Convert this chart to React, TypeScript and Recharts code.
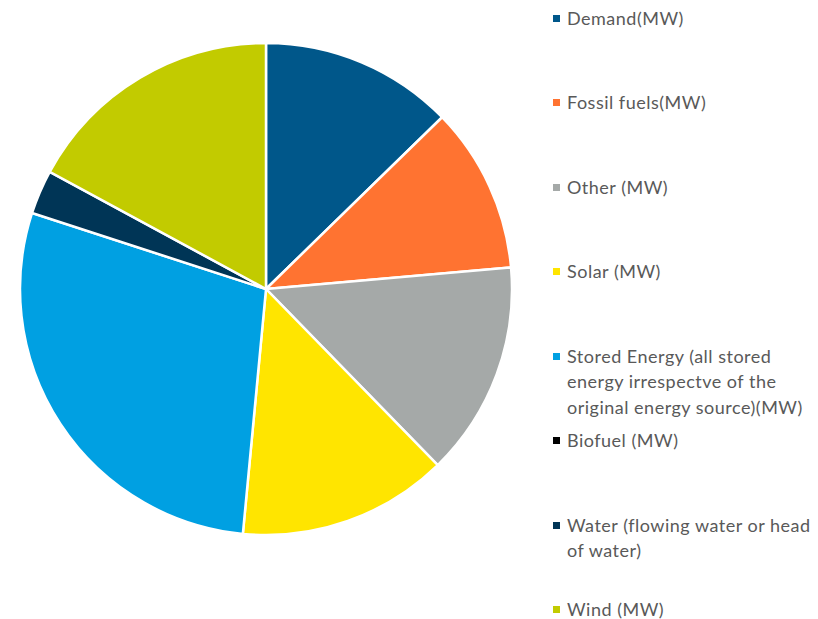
import React from 'react'
import { PieChart, Pie, Cell, Legend } from 'recharts'

// share of each source
const names = [
  'Demand(MW)',
  'Fossil fuels(MW)',
  'Other (MW)',
  'Solar (MW)',
  'Stored Energy (all stored energy irrespectve of the original energy source)(MW)',
  'Biofuel (MW)',
  'Water (flowing water or head of water)',
  'Wind (MW)'
]
const values = [12.7, 10.9, 14.1, 13.8, 28.5, 0, 2.9, 17.1]
const colors = ['#00578A', '#FF7331', '#A5A9A8', '#FFE500', '#00A0E2', '#000000', '#003556', '#C2CB00']

// legend text as it wraps in the original
const legendLines = [
  ['Demand(MW)'],
  ['Fossil fuels(MW)'],
  ['Other (MW)'],
  ['Solar (MW)'],
  ['Stored Energy (all stored', 'energy irrespectve of the', 'original energy source)(MW)'],
  ['Biofuel (MW)'],
  ['Water (flowing water or head', 'of water)'],
  ['Wind (MW)']
]

const data = names.map((name, i) => ({ name, value: values[i] }))

const CustomLegend = () => (
  <div style={{ position: 'relative', width: 270, height: 619 }}>
    {legendLines.map((lines, i) => (
      <div
        key={i}
        style={{
          position: 'absolute',
          left: 0,
          top: 18 + i * 84.5 - 12.5,
          display: 'flex',
          alignItems: 'flex-start'
        }}
      >
        <span
          style={{
            width: 7,
            height: 7,
            marginTop: 9,
            marginRight: 7,
            background: colors[i],
            flexShrink: 0
          }}
        />
        <div>
          {lines.map((l, j) => (
            <div key={j} style={{ height: 25.5, lineHeight: '25px', whiteSpace: 'nowrap' }}>
              {l}
            </div>
          ))}
        </div>
      </div>
    ))}
  </div>
)

export default function App() {
  return (
    <div
      style={{
        position: 'absolute',
        left: 0,
        top: 0,
        width: 818,
        height: 619,
        background: '#fff',
        fontFamily: 'Lato, sans-serif',
        fontSize: 18,
        letterSpacing: 0.5,
        color: '#595959'
      }}
    >
      <PieChart width={818} height={619} margin={{ top: 0, right: 0, bottom: 0, left: 0 }}>
        <Pie
          data={data}
          dataKey="value"
          nameKey="name"
          cx={266}
          cy={289}
          outerRadius={246}
          startAngle={90}
          endAngle={-270}
          stroke="#fff"
          strokeWidth={2.5}
          isAnimationActive={false}
        >
          {data.map((d, i) => (
            <Cell key={d.name} fill={colors[i]} />
          ))}
        </Pie>
        <Legend
          content={<CustomLegend />}
          layout="vertical"
          wrapperStyle={{ position: 'absolute', left: 553, top: 0, width: 270 }}
        />
      </PieChart>
    </div>
  )
}
